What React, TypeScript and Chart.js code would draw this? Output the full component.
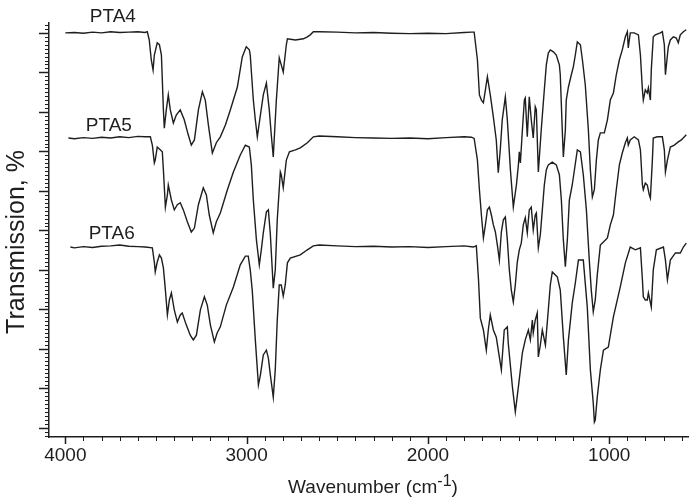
import React, { useEffect, useRef } from "react";
import { Chart, registerables } from "chart.js";

Chart.register(...registerables);

// Wavenumber (cm^-1), transmission (arbitrary %, offset spectra)
const pta4: [number, number][] = [
  [4000, 100.0], [3950, 100.1], [3900, 99.9], [3850, 100.2], [3800, 100.0], [3750, 100.3], [3700, 100.1],
  [3650, 100.2], [3600, 100.3], [3560, 100.1], [3548, 100.3], [3537, 98.2], [3526, 93.2], [3516, 90.6],
  [3509, 94.4], [3493, 97.5], [3481, 97.0], [3470, 94.4], [3465, 88.1], [3459, 80.5], [3454, 75.9],
  [3443, 80.5], [3432, 84.3], [3421, 80.5], [3404, 77.2], [3388, 79.2], [3366, 80.5], [3344, 78.0],
  [3322, 74.2], [3305, 71.6], [3288, 72.9], [3266, 80.5], [3244, 85.1], [3228, 83.0], [3211, 76.7],
  [3189, 69.6], [3167, 72.2], [3145, 73.7], [3117, 76.7], [3090, 80.5], [3051, 86.3], [3024, 93.9],
  [3002, 96.5], [2985, 95.7], [2980, 94.4], [2963, 83.0], [2952, 78.0], [2941, 73.7], [2924, 79.2],
  [2908, 84.3], [2891, 87.3], [2875, 80.5], [2864, 74.2], [2853, 68.6], [2836, 83.0], [2820, 93.7],
  [2809, 91.9], [2798, 90.1], [2781, 97.0], [2775, 98.5], [2731, 98.2], [2687, 98.5], [2665, 99.0],
  [2649, 99.5], [2632, 100.3], [2600, 100.3], [2500, 100.2], [2400, 100.0], [2300, 100.1], [2200, 99.9],
  [2100, 99.8], [2000, 99.9], [1900, 99.8], [1800, 100.1], [1760, 100.2], [1745, 100.2], [1727, 93.2],
  [1716, 84.3], [1705, 83.0], [1694, 82.3], [1683, 85.6], [1672, 88.9], [1656, 84.3], [1639, 78.7],
  [1623, 72.9], [1612, 64.6], [1601, 70.4], [1590, 78.0], [1573, 83.8], [1562, 78.0], [1545, 65.3],
  [1529, 55.9], [1512, 61.5], [1501, 66.6], [1496, 69.9], [1490, 67.1], [1479, 75.4], [1468, 83.0],
  [1463, 83.5], [1452, 73.7], [1441, 83.8], [1430, 78.0], [1419, 73.4], [1408, 81.3], [1402, 80.5],
  [1391, 64.8], [1375, 75.4], [1358, 85.6], [1347, 91.9], [1336, 94.9], [1325, 95.7], [1308, 95.2],
  [1292, 94.4], [1275, 91.9], [1270, 89.4], [1259, 75.4], [1253, 68.6], [1242, 75.4], [1237, 83.0],
  [1225, 86.3], [1209, 89.4], [1198, 91.4], [1187, 94.4], [1176, 97.7], [1159, 97.0], [1148, 93.2],
  [1132, 86.8], [1115, 75.4], [1104, 65.3], [1093, 58.5], [1082, 60.3], [1071, 67.8], [1060, 72.9],
  [1049, 74.7], [1027, 74.7], [1010, 78.0], [994, 83.0], [977, 84.8], [961, 89.4], [944, 93.2],
  [928, 95.7], [911, 99.0], [900, 100.3], [895, 96.2], [884, 100.0], [862, 100.0], [839, 99.5],
  [828, 94.4], [817, 85.6], [812, 83.0], [801, 85.6], [790, 84.8], [784, 86.1], [773, 83.0],
  [768, 90.6], [757, 99.0], [746, 99.5], [718, 100.0], [707, 100.3], [696, 97.0], [690, 89.4],
  [679, 94.4], [674, 96.5], [663, 98.2], [646, 99.0], [630, 98.7], [619, 97.5], [608, 99.5],
  [591, 100.3], [575, 100.8],
];

const pta5: [number, number][] = [
  [3983, 73.4], [3950, 73.2], [3900, 73.5], [3850, 73.3], [3800, 73.6], [3750, 73.4], [3700, 73.7],
  [3650, 73.5], [3600, 73.8], [3560, 73.7], [3531, 73.7], [3520, 71.6], [3509, 67.1], [3504, 67.8],
  [3493, 71.1], [3481, 70.6], [3465, 69.9], [3459, 65.3], [3448, 55.9], [3437, 59.0], [3432, 61.5],
  [3415, 57.7], [3399, 55.2], [3382, 56.5], [3366, 57.0], [3349, 55.2], [3327, 52.2], [3305, 49.6],
  [3288, 50.6], [3266, 56.5], [3239, 60.8], [3222, 59.0], [3206, 53.9], [3184, 49.4], [3167, 52.2],
  [3145, 54.4], [3106, 60.3], [3073, 64.8], [3035, 69.1], [3007, 71.6], [2985, 71.1], [2974, 66.6],
  [2963, 57.7], [2946, 47.6], [2930, 41.3], [2919, 45.1], [2908, 49.4], [2891, 54.7], [2880, 55.2],
  [2869, 48.9], [2853, 35.4], [2842, 40.0], [2831, 52.7], [2814, 64.8], [2809, 64.1], [2798, 60.8],
  [2781, 67.8], [2764, 69.9], [2731, 70.4], [2704, 70.9], [2665, 72.2], [2632, 73.7], [2600, 73.9],
  [2500, 73.7], [2400, 73.5], [2300, 73.4], [2200, 73.3], [2100, 73.4], [2000, 73.2], [1900, 73.5],
  [1800, 73.7], [1760, 73.6], [1745, 73.3], [1727, 67.8], [1716, 60.3], [1705, 53.9], [1694, 48.1],
  [1683, 51.4], [1672, 55.2], [1661, 55.9], [1650, 53.9], [1639, 51.4], [1628, 49.6], [1617, 46.3],
  [1606, 42.5], [1595, 49.6], [1584, 52.7], [1573, 53.4], [1562, 47.6], [1551, 40.0], [1540, 34.9],
  [1529, 31.9], [1518, 36.2], [1507, 42.0], [1496, 45.1], [1485, 46.8], [1474, 51.4], [1463, 53.2],
  [1452, 49.4], [1441, 55.2], [1430, 55.9], [1419, 50.1], [1408, 53.9], [1402, 54.4], [1391, 45.6],
  [1380, 48.9], [1369, 55.2], [1358, 61.5], [1347, 65.3], [1336, 66.6], [1314, 67.3], [1292, 66.6],
  [1275, 64.1], [1264, 57.7], [1253, 47.6], [1242, 40.8], [1231, 47.6], [1220, 57.7], [1204, 61.5],
  [1192, 65.3], [1176, 70.4], [1159, 69.9], [1143, 64.1], [1126, 55.2], [1110, 42.5], [1099, 34.9],
  [1088, 29.4], [1077, 32.4], [1066, 38.7], [1049, 46.3], [1032, 47.1], [1010, 48.1], [994, 51.4],
  [977, 53.9], [961, 60.3], [944, 66.6], [928, 69.6], [911, 72.2], [900, 73.4], [895, 71.6],
  [884, 72.9], [862, 73.7], [839, 72.9], [828, 70.4], [817, 61.5], [812, 60.3], [801, 62.0],
  [790, 61.5], [779, 59.0], [773, 58.2], [762, 67.8], [757, 73.4], [735, 73.7], [707, 73.7],
  [696, 70.4], [690, 64.8], [679, 67.8], [663, 71.1], [641, 71.6], [619, 72.4], [602, 72.9], [575, 74.2],
];

const pta6: [number, number][] = [
  [3972, 45.8], [3950, 45.6], [3900, 45.9], [3850, 45.7], [3800, 46.0], [3750, 46.1], [3700, 46.3],
  [3650, 46.0], [3600, 45.9], [3560, 45.8], [3520, 45.6], [3509, 42.0], [3504, 39.5], [3493, 42.0],
  [3481, 43.8], [3470, 43.0], [3459, 40.5], [3448, 34.9], [3437, 28.6], [3426, 32.4], [3415, 34.2],
  [3399, 29.9], [3382, 26.8], [3366, 28.6], [3355, 29.1], [3333, 26.1], [3311, 23.5], [3294, 22.3],
  [3277, 23.5], [3255, 29.9], [3233, 33.2], [3217, 31.1], [3200, 26.1], [3178, 21.8], [3162, 24.1],
  [3145, 25.6], [3112, 31.1], [3073, 35.7], [3035, 41.3], [3007, 43.5], [2991, 43.5], [2980, 40.0],
  [2969, 34.9], [2952, 22.3], [2935, 10.9], [2924, 13.4], [2908, 18.5], [2891, 19.7], [2880, 17.7],
  [2869, 13.4], [2853, 7.8], [2842, 14.7], [2831, 27.3], [2820, 36.2], [2809, 36.2], [2798, 33.4],
  [2787, 36.2], [2775, 41.8], [2759, 43.0], [2704, 43.8], [2665, 45.1], [2632, 46.1], [2600, 46.3],
  [2500, 46.1], [2400, 45.9], [2300, 46.0], [2200, 45.8], [2100, 45.9], [2000, 45.7], [1900, 45.9],
  [1800, 46.1], [1750, 45.8], [1733, 46.1], [1721, 37.5], [1711, 27.8], [1694, 24.8], [1678, 19.7],
  [1667, 24.8], [1656, 28.6], [1639, 24.8], [1623, 23.0], [1612, 19.7], [1595, 14.7], [1579, 24.8],
  [1562, 25.6], [1557, 21.5], [1534, 10.4], [1518, 4.1], [1501, 10.4], [1479, 19.0], [1463, 22.3],
  [1446, 24.8], [1435, 22.3], [1424, 27.3], [1419, 24.1], [1408, 27.3], [1397, 29.1], [1391, 18.0],
  [1380, 21.0], [1369, 24.8], [1352, 21.0], [1336, 29.9], [1325, 36.2], [1314, 39.5], [1297, 38.7],
  [1286, 38.2], [1270, 34.9], [1253, 23.0], [1237, 13.4], [1225, 22.3], [1204, 31.6], [1187, 36.7],
  [1170, 42.5], [1143, 42.5], [1121, 30.6], [1104, 14.7], [1088, 6.3], [1082, 1.5], [1077, 2.0],
  [1066, 7.8], [1049, 14.7], [1032, 19.7], [1005, 20.5], [977, 28.1], [939, 35.7], [911, 41.8],
  [884, 45.8], [856, 45.1], [828, 45.6], [817, 37.5], [812, 33.2], [801, 32.4], [790, 32.4],
  [784, 34.2], [768, 30.6], [757, 40.0], [740, 45.1], [701, 45.8], [690, 42.5], [679, 37.5],
  [663, 42.5], [635, 44.3], [608, 44.3], [591, 45.8], [575, 46.8],
];

const seriesNames = ["PTA4", "PTA5", "PTA6"];
const labelWavenumbers = [3738, 3760, 3744];
const labelLevels = [104.2, 76.5, 49.1];
const xMajorTicks = [1000, 2000, 3000, 4000];
const xAxisTitle = "Wavenumber (cm";
const xAxisTitleSup = "-1";
const yAxisTitle = "Transmission, %";

const FONT = '"Liberation Sans", Arial, Helvetica, sans-serif';
const INK = "#1e1e1e";

const decorPlugin = {
  id: "decor",
  afterDraw(chart: any) {
    const ctx: CanvasRenderingContext2D = chart.ctx;
    const xs = chart.scales.x;
    const ys = chart.scales.y;
    const { left, bottom } = chart.chartArea;
    ctx.save();
    ctx.strokeStyle = INK;
    // x tick marks
    for (let v = 600; v <= 4000; v += 100) {
      const major = v % 1000 === 0;
      const px = Math.round(xs.getPixelForValue(v)) + 0.5;
      ctx.lineWidth = major ? 1.5 : 1;
      ctx.beginPath();
      ctx.moveTo(px, bottom);
      ctx.lineTo(px, bottom + (major ? 7 : 4));
      ctx.stroke();
    }
    // y tick marks
    for (let v = -2; v <= 102; v += 1) {
      const major = v % 10 === 0;
      const py = Math.round(ys.getPixelForValue(v)) + 0.5;
      ctx.lineWidth = major ? 1.5 : 1;
      ctx.beginPath();
      ctx.moveTo(left, py);
      ctx.lineTo(left - (major ? 10 : 4), py);
      ctx.stroke();
    }
    ctx.fillStyle = INK;
    // series labels
    ctx.font = `19px ${FONT}`;
    ctx.textAlign = "center";
    ctx.textBaseline = "middle";
    seriesNames.forEach((name, i) => {
      ctx.fillText(name, xs.getPixelForValue(labelWavenumbers[i]), ys.getPixelForValue(labelLevels[i]));
    });
    // x axis title with superscript
    ctx.textAlign = "left";
    ctx.textBaseline = "alphabetic";
    const mainFont = `19px ${FONT}`;
    const supFont = `16px ${FONT}`;
    ctx.font = mainFont;
    const w1 = ctx.measureText(xAxisTitle).width;
    const w3 = ctx.measureText(")").width;
    ctx.font = supFont;
    const w2 = ctx.measureText(xAxisTitleSup).width;
    const cx = (chart.chartArea.left + chart.chartArea.right) / 2 + 4;
    const startX = cx - (w1 + w2 + w3) / 2;
    const baseY = 493;
    ctx.font = mainFont;
    ctx.fillText(xAxisTitle, startX, baseY);
    ctx.font = supFont;
    ctx.fillText(xAxisTitleSup, startX + w1, baseY - 7);
    ctx.font = mainFont;
    ctx.fillText(")", startX + w1 + w2, baseY);
    // y axis title
    ctx.save();
    ctx.translate(17, 242);
    ctx.rotate(-Math.PI / 2);
    ctx.font = `25px ${FONT}`;
    ctx.textAlign = "center";
    ctx.textBaseline = "middle";
    ctx.fillText(yAxisTitle, 0, 0);
    ctx.restore();
    ctx.restore();
  },
};

export default function App() {
  const canvasRef = useRef<HTMLCanvasElement | null>(null);

  useEffect(() => {
    const canvas = canvasRef.current;
    if (!canvas) return;
    const lineStyle = {
      borderColor: INK,
      borderWidth: 1.4,
      pointRadius: 0,
      tension: 0,
      fill: false,
    };
    const chart = new Chart(canvas, {
      type: "line",
      data: {
        datasets: [
          { label: seriesNames[0], data: pta4 as any, ...lineStyle },
          { label: seriesNames[1], data: pta5 as any, ...lineStyle },
          { label: seriesNames[2], data: pta6 as any, ...lineStyle },
        ],
      },
      options: {
        responsive: false,
        animation: false,
        devicePixelRatio: 1,
        layout: { padding: { top: 23, right: 0, left: 0, bottom: 0 } },
        plugins: { legend: { display: false }, tooltip: { enabled: false } },
        scales: {
          x: {
            type: "linear",
            reverse: true,
            min: 560,
            max: 4090,
            grid: { display: false, drawTicks: false },
            border: { display: true, color: INK, width: 1.5 },
            ticks: {
              autoSkip: false,
              maxRotation: 0,
              padding: 7,
              color: INK,
              font: { family: FONT, size: 19 },
              callback: (v: any) => String(v),
            },
            afterBuildTicks: (s: any) => {
              s.ticks = xMajorTicks.map((v) => ({ value: v }));
            },
            afterFit: (s: any) => {
              s.height = 64;
            },
          },
          y: {
            type: "linear",
            min: -2.28,
            max: 102.5,
            grid: { display: false, drawTicks: false },
            border: { display: true, color: INK, width: 1.5 },
            ticks: { display: false },
            afterFit: (s: any) => {
              s.width = 49;
            },
          },
        },
      },
      plugins: [decorPlugin],
    });
    return () => chart.destroy();
  }, []);

  return (
    <div style={{ position: "absolute", left: 0, top: 0, width: 689, height: 501, background: "#fff" }}>
      <canvas ref={canvasRef} width={689} height={501} style={{ width: 689, height: 501, display: "block" }} />
    </div>
  );
}
